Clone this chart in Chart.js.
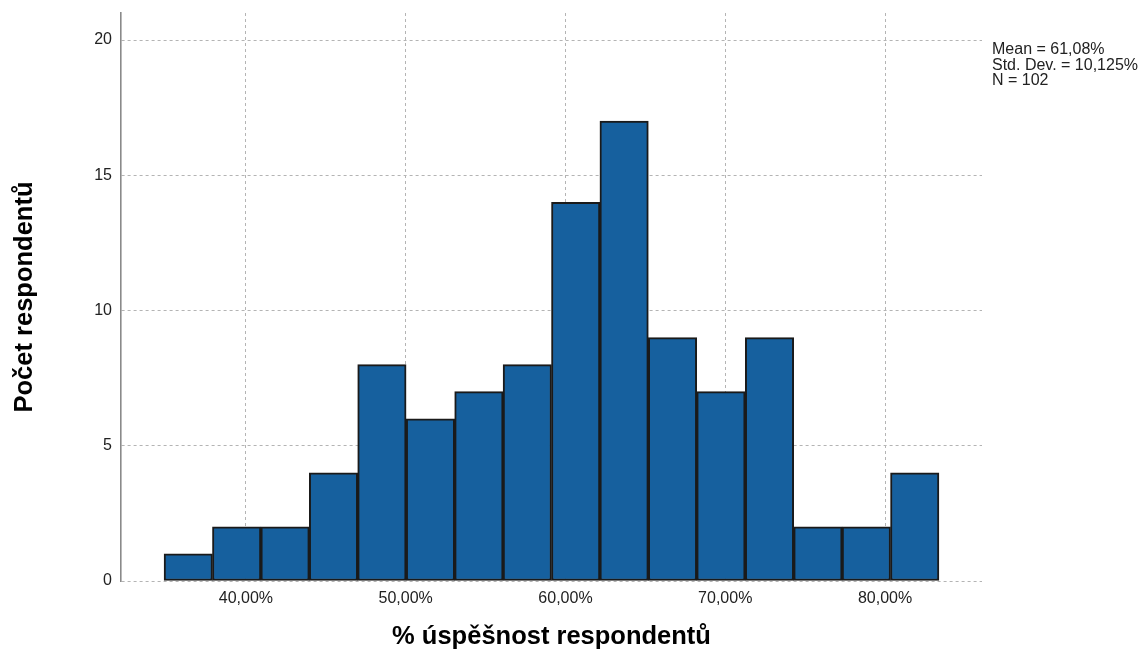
<!DOCTYPE html>
<html>
<head>
<meta charset="utf-8">
<script src="https://cdn.jsdelivr.net/npm/chart.js@4/dist/chart.umd.min.js"></script>
<style>
  html, body { margin: 0; padding: 0; background: #fff; }
  #wrap { width: 1144px; height: 651px; }
</style>
</head>
<body>
<div id="wrap"><canvas id="hist" width="1144" height="651"></canvas></div>
<script>
// histogram bins (centre of each bin, in %) and counts
const binCenters = [36.39, 39.42, 42.45, 45.48, 48.51, 51.55, 54.58, 57.61,
                    60.64, 63.67, 66.70, 69.73, 72.77, 75.80, 78.83, 81.86];
const counts = [1, 2, 2, 4, 8, 6, 7, 8, 14, 17, 9, 7, 9, 2, 2, 4];
const xTicks = [40, 50, 60, 70, 80];
const yTicks = [0, 5, 10, 15, 20];
const statLines = ['Mean = 61,08%', 'Std. Dev. = 10,125%', 'N = 102'];

const FONT = "'Liberation Sans', Arial, sans-serif";

// Stats text to the right of the plot
const statsPlugin = {
  id: 'stats',
  afterDraw(chart) {
    const ctx = chart.ctx;
    ctx.save();
    ctx.font = '16px ' + FONT;
    ctx.fillStyle = '#222';
    ctx.textBaseline = 'middle';
    ctx.textAlign = 'left';
    statLines.forEach((t, i) => {
      ctx.fillText(t, chart.chartArea.right + 10, 50 + i * 15.5);
    });
    ctx.restore();
  }
};

const chart = new Chart(document.getElementById('hist').getContext('2d'), {
  type: 'bar',
  data: {
    datasets: [{
      data: binCenters.map((x, i) => ({ x: x, y: counts[i] })),
      backgroundColor: '#16609e',
      borderColor: '#1a1a1a',
      borderWidth: 2,
      borderSkipped: false,
      barPercentage: 1,
      categoryPercentage: 1
    }]
  },
  options: {
    responsive: false,
    animation: false,
    layout: { padding: { top: 13, right: 162, left: 0, bottom: 0 } },
    plugins: {
      legend: { display: false },
      tooltip: { enabled: false }
    },
    scales: {
      x: {
        type: 'linear',
        min: 32.18,
        max: 86.07,
        offset: false,
        afterBuildTicks: s => { s.ticks = xTicks.map(v => ({ value: v })); },
        afterFit: s => { s.height = 70; s.paddingLeft = 0; s.paddingRight = 0; },
        grid: { color: '#b4b4b4', lineWidth: 1, drawTicks: false, offset: false },
        border: { display: false, dash: [3, 3] },
        ticks: {
          padding: 8,
          color: '#222',
          font: { family: FONT, size: 16 },
          maxRotation: 0,
          callback: v => v.toFixed(2).replace('.', ',') + '%'
        },
        title: {
          display: true,
          text: '% úspěšnost respondentů',
          color: '#000',
          font: { family: FONT, size: 25.5, weight: 'bold', lineHeight: 1 },
          padding: { top: 0, bottom: 1 }
        }
      },
      y: {
        min: 0,
        max: 21,
        afterBuildTicks: s => { s.ticks = yTicks.map(v => ({ value: v })); },
        afterFit: s => { s.width = 121; s.paddingTop = 0; s.paddingBottom = 0; },
        grid: { color: '#b4b4b4', lineWidth: 1, drawTicks: false },
        border: { display: true, color: '#8a8a8a', width: 1.6, dash: [3, 3] },
        ticks: {
          padding: 9,
          color: '#222',
          font: { family: FONT, size: 16 }
        },
        title: {
          display: true,
          text: 'Počet respondentů',
          color: '#000',
          font: { family: FONT, size: 25.5, weight: 'bold', lineHeight: 1 },
          padding: { top: 12, bottom: 0 }
        }
      }
    }
  },
  plugins: [statsPlugin]
});
</script>
</body>
</html>
